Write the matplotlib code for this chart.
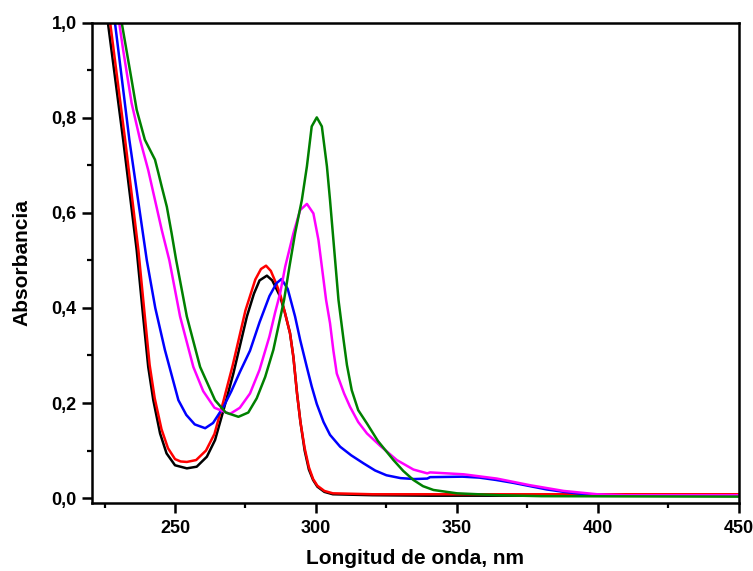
import matplotlib
matplotlib.use("Agg")
import matplotlib.pyplot as plt
from matplotlib.ticker import MultipleLocator, FuncFormatter

plt.rcParams["font.family"] = ["Liberation Sans", "DejaVu Sans"]
plt.rcParams["font.weight"] = "bold"

# spectra (wavelength nm, absorbance)
wl_black = [224.5, 226.2, 231.6, 236.4, 238.7, 240.5, 242.3, 244.7, 247.0, 250.0, 254.2, 257.7, 261.3,
            264.2, 267.2, 270.7, 275.5, 278.0, 280.0, 282.6, 284.5, 286.0, 287.3, 289.0, 290.8,
            292.0, 293.3, 294.5, 296.0, 297.5, 299.0, 300.5, 303.0, 306.0, 320.0, 340.0, 450.0]
abs_black = [1.08, 1.0, 0.754, 0.522, 0.382, 0.276, 0.206, 0.136, 0.094, 0.069, 0.0625, 0.066, 0.087,
             0.122, 0.185, 0.262, 0.382, 0.43, 0.458, 0.468, 0.458, 0.44, 0.424, 0.39, 0.347,
             0.297, 0.22, 0.16, 0.1, 0.06, 0.038, 0.024, 0.013, 0.008, 0.006, 0.005, 0.005]

wl_red = [224.8, 227.0, 232.3, 237.0, 239.3, 241.0, 242.8, 245.2, 247.5, 250.0, 252.0, 254.2, 257.5,
          261.0, 264.0, 267.0, 270.5, 275.0, 278.5, 280.5, 282.3, 284.0, 286.0, 287.5, 289.0, 290.8,
          292.0, 293.3, 294.5, 296.0, 297.5, 299.0, 300.5, 303.0, 306.0, 320.0, 450.0]
abs_red = [1.08, 1.0, 0.754, 0.522, 0.382, 0.28, 0.21, 0.145, 0.105, 0.082, 0.077, 0.076, 0.08,
           0.1, 0.135, 0.2, 0.28, 0.395, 0.46, 0.482, 0.489, 0.478, 0.45, 0.425, 0.39, 0.347,
           0.297, 0.22, 0.16, 0.105, 0.065, 0.04, 0.026, 0.015, 0.01, 0.008, 0.008]

wl_blue = [225.5, 228.7, 233.8, 240.0, 243.0, 246.4, 251.2, 254.0, 257.0, 260.7, 263.5, 267.2, 270.0,
           273.0, 276.6, 280.0, 283.5, 286.0, 287.8, 290.0, 292.6, 294.4, 296.8, 298.5, 300.3, 302.7,
           305.0, 308.6, 312.5, 316.9, 321.0, 325.0, 330.0, 335.0, 339.5, 340.5, 352.0, 358.0, 364.0,
           370.0, 376.0, 382.0, 388.0, 394.0, 400.0, 410.0, 450.0]
abs_blue = [1.08, 1.0, 0.754, 0.50, 0.40, 0.312, 0.206, 0.175, 0.155, 0.147, 0.158, 0.192, 0.225,
            0.265, 0.31, 0.37, 0.425, 0.452, 0.461, 0.44, 0.382, 0.333, 0.275, 0.235, 0.198, 0.16,
            0.133, 0.108, 0.09, 0.073, 0.058, 0.048, 0.042, 0.04, 0.041, 0.044, 0.045, 0.043, 0.038,
            0.032, 0.025, 0.018, 0.013, 0.009, 0.006, 0.005, 0.005]

wl_magenta = [226.5, 230.2, 231.6, 234.6, 237.6, 240.5, 242.9, 245.3, 248.0, 251.8, 256.5, 260.0,
              264.0, 269.5, 273.0, 276.6, 280.0, 283.5, 285.5, 287.3, 289.1, 292.0, 294.4, 296.8,
              299.1, 300.9, 302.4, 303.6, 305.0, 306.2, 307.4, 310.0, 312.1, 315.0, 318.1, 322.8,
              328.7, 334.6, 339.5, 340.5, 352.4, 364.2, 376.0, 387.9, 399.8, 410.0, 450.0]
abs_magenta = [1.08, 1.0, 0.943, 0.831, 0.754, 0.69, 0.627, 0.564, 0.50, 0.382, 0.276, 0.225,
               0.19, 0.177, 0.19, 0.22, 0.27, 0.34, 0.39, 0.431, 0.487, 0.557, 0.606, 0.619,
               0.599, 0.543, 0.473, 0.417, 0.368, 0.31, 0.262, 0.22, 0.192, 0.16, 0.136, 0.11,
               0.08, 0.06, 0.052, 0.054, 0.05, 0.041, 0.027, 0.015, 0.008, 0.006, 0.006]

wl_green = [227.5, 231.1, 234.6, 236.4, 239.3, 242.9, 244.1, 245.3, 247.1, 248.8, 250.4, 254.2,
            258.9, 264.2, 268.0, 272.5, 276.0, 279.0, 282.0, 284.9, 287.0, 288.7, 290.6, 292.6,
            295.0, 296.8, 298.5, 300.3, 302.1, 303.9, 305.0, 306.5, 308.0, 309.8, 311.0, 312.7,
            315.0, 318.1, 322.0, 327.5, 331.0, 334.6, 338.0, 341.7, 350.0, 365.0, 380.0, 450.0]
abs_green = [1.08, 1.0, 0.88, 0.817, 0.754, 0.712, 0.684, 0.655, 0.613, 0.557, 0.501, 0.382,
             0.276, 0.206, 0.18, 0.171, 0.18, 0.21, 0.255, 0.312, 0.37, 0.417, 0.487, 0.557,
             0.627, 0.698, 0.782, 0.801, 0.782, 0.698, 0.627, 0.522, 0.417, 0.333, 0.28, 0.227,
             0.185, 0.157, 0.12, 0.08, 0.057, 0.038, 0.025, 0.017, 0.01, 0.006, 0.004, 0.003]

fig = plt.figure(figsize=(7.53, 5.71), dpi=100)
ax = fig.add_axes([0.122, 0.119, 0.859, 0.841])

lw = 1.8
ax.plot(wl_black, abs_black, color="black", lw=lw)
ax.plot(wl_red, abs_red, color="#ff0000", lw=lw)
ax.plot(wl_blue, abs_blue, color="#0000ff", lw=lw)
ax.plot(wl_magenta, abs_magenta, color="#ff00ff", lw=lw)
ax.plot(wl_green, abs_green, color="#008000", lw=lw)

ax.set_xlim(220.5, 450)
ax.set_ylim(-0.0105, 1.0)

ax.xaxis.set_major_locator(MultipleLocator(50))
ax.xaxis.set_minor_locator(MultipleLocator(25))
ax.yaxis.set_major_locator(MultipleLocator(0.2))
ax.yaxis.set_minor_locator(MultipleLocator(0.1))
ax.yaxis.set_major_formatter(FuncFormatter(lambda v, p: f"{v:.1f}".replace(".", ",")))

for s in ax.spines.values():
    s.set_linewidth(1.8)
ax.tick_params(which="major", direction="out", length=7, width=1.8, labelsize=13)
ax.tick_params(axis="x", which="major", pad=5)
ax.tick_params(axis="y", which="major", pad=4)
ax.tick_params(which="minor", direction="out", length=3.5, width=1.6)
for lab in ax.get_xticklabels() + ax.get_yticklabels():
    lab.set_fontweight("bold")

ax.set_xlabel("Longitud de onda, nm", fontsize=15, fontweight="bold", labelpad=9)
ax.set_ylabel("Absorbancia", fontsize=15, fontweight="bold", labelpad=14)

fig.savefig("out.png", dpi=100)
